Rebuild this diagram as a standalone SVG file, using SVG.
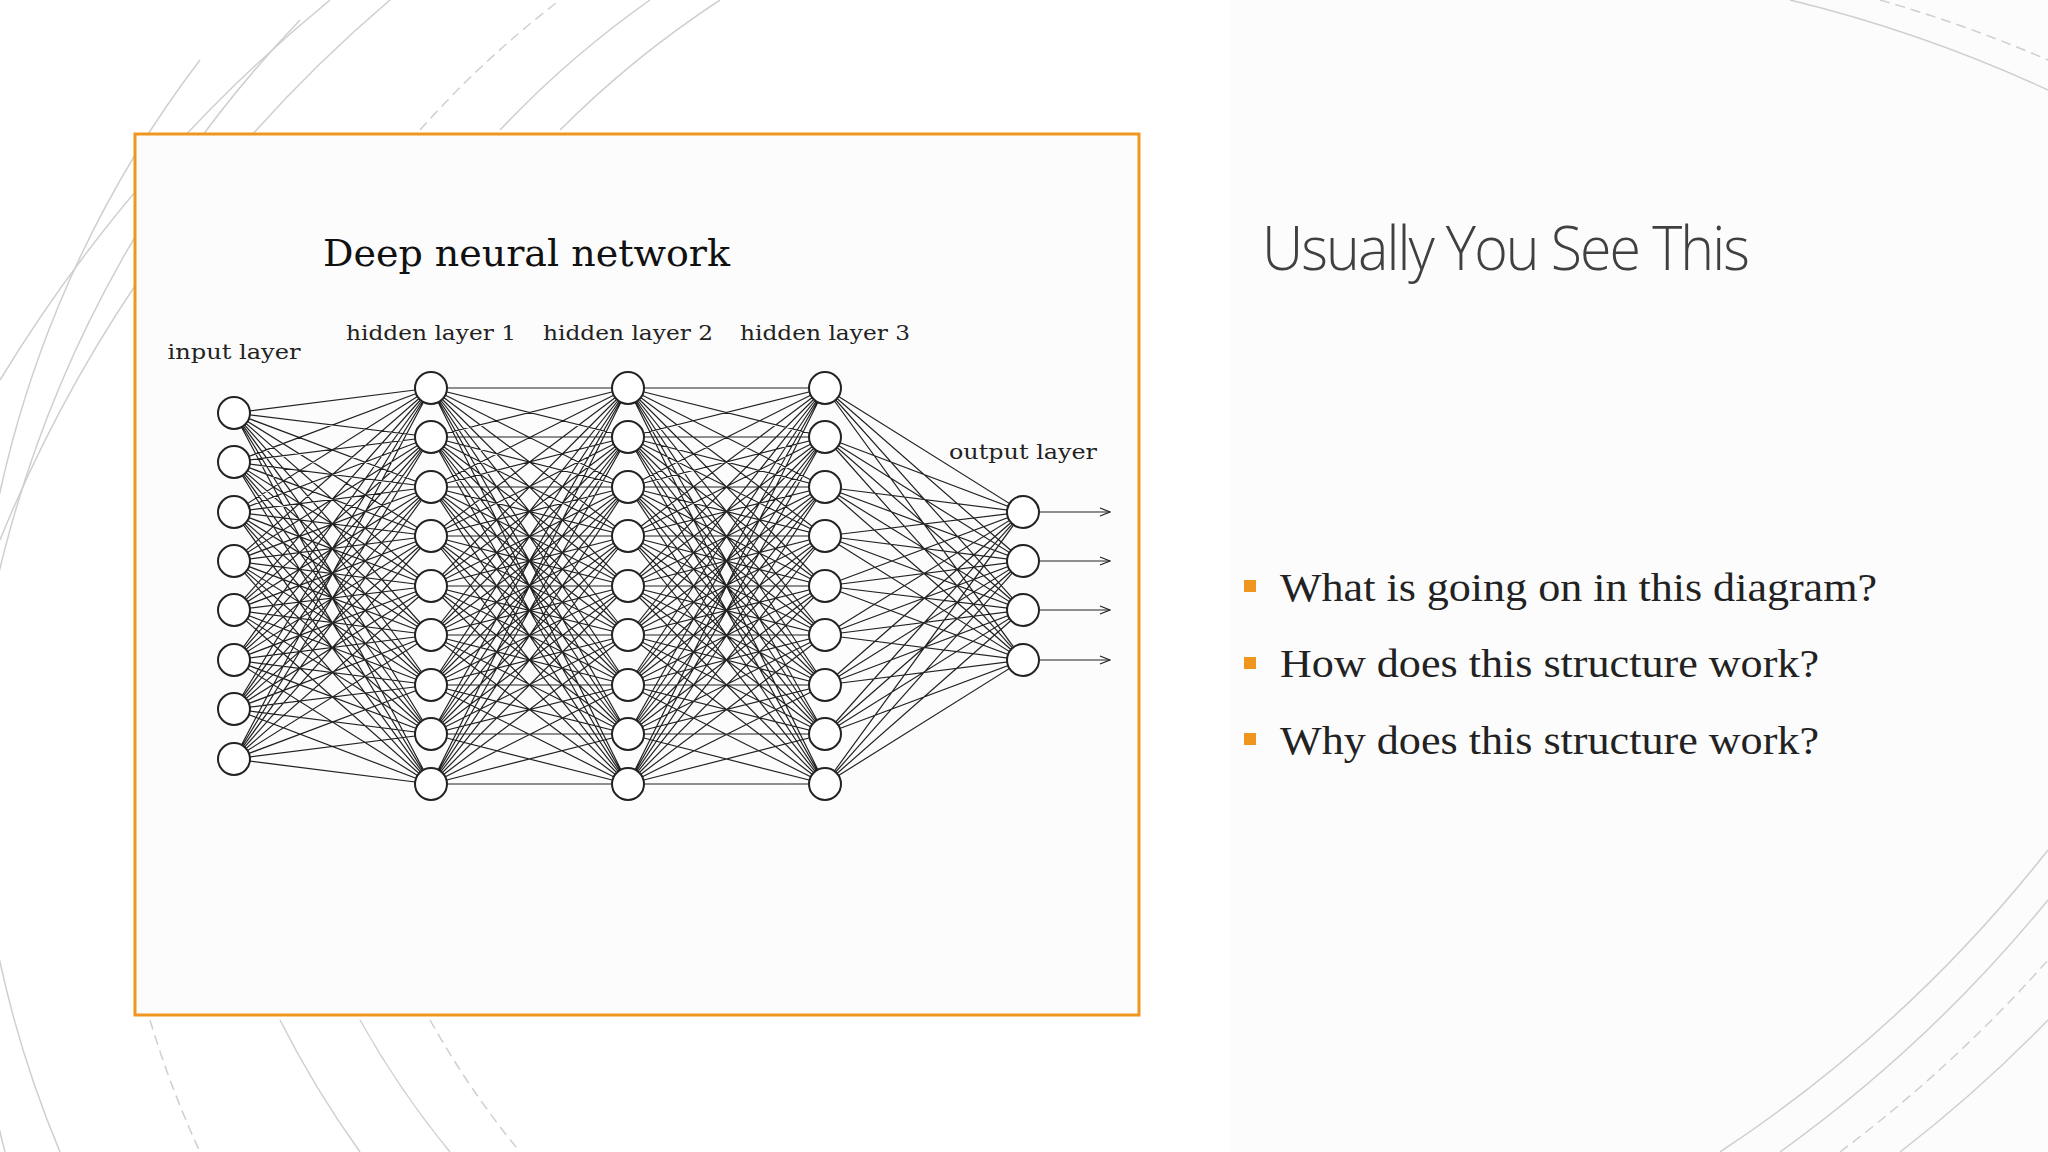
<svg xmlns="http://www.w3.org/2000/svg" xmlns:xlink="http://www.w3.org/1999/xlink" width="2048" height="1152" viewBox="0 0 2048 1152">
<style>
.bg{fill:none;stroke:#cfcfcf;stroke-width:1.5}
.dash{stroke-dasharray:10 6}
.ed{fill:none;stroke:#222;stroke-width:1.2}
.nd{fill:#fff;stroke:#222;stroke-width:2}
.lbl{font-family:"DejaVu Serif","Liberation Serif",serif;font-size:21px;fill:#222;text-anchor:middle}
.bul{font-family:"Liberation Serif",serif;font-size:40px;fill:#222}
</style>
<defs>
<marker id="ar" markerWidth="12" markerHeight="10" refX="11" refY="5" orient="auto" markerUnits="userSpaceOnUse">
<path d="M1 1L11 5L1 9" fill="none" stroke="#222" stroke-width="1.3"/>
</marker>
</defs>
<rect width="2048" height="1152" fill="#fff"/>
<rect x="1230" y="0" width="818" height="1152" fill="#fcfcfc"/>
<g id="decor">
<path class="bg" d="M0 380A1500 1500 0 0 1 330 0"/>
<path class="bg" d="M0 540A1400 1400 0 0 1 390 0"/>
<path class="bg" d="M5 1152A1200 1200 0 0 1 300 20"/>
<path class="bg" d="M60 1152A1100 1100 0 0 1 200 60"/>
<path class="bg dash" d="M420 130A1000 1000 0 0 1 560 0"/>
<path class="bg" d="M500 130A1000 1000 0 0 1 650 0"/>
<path class="bg" d="M560 130A1000 1000 0 0 1 720 0"/>
<path class="bg dash" d="M150 1020A1000 1000 0 0 0 200 1152"/>
<path class="bg" d="M280 1020A1000 1000 0 0 0 360 1152"/>
<path class="bg" d="M360 1020A900 900 0 0 0 450 1152"/>
<path class="bg dash" d="M430 1020A900 900 0 0 0 520 1152"/>
<path class="bg" d="M1790 0A1400 1400 0 0 1 2048 90"/>
<path class="bg dash" d="M1880 0A1400 1400 0 0 1 2048 60"/>
<path class="bg" d="M1720 1152A1400 1400 0 0 0 2048 850"/>
<path class="bg" d="M1780 1152A1400 1400 0 0 0 2048 900"/>
<path class="bg dash" d="M1840 1152A1400 1400 0 0 0 2048 960"/>
<path class="bg" d="M1900 1152A1400 1400 0 0 0 2048 1020"/>
</g>
<g id="frame">
<rect x="135" y="134" width="1004" height="881" fill="#fdfcfc" stroke="#f0961e" stroke-width="3"/>
<text x="323" y="266" font-family="DejaVu Serif,Liberation Serif,serif" font-size="38" fill="#111" textLength="407" lengthAdjust="spacingAndGlyphs">Deep neural network</text>
<text class="lbl" x="234" y="359" textLength="133" lengthAdjust="spacingAndGlyphs">input layer</text>
<text class="lbl" x="431" y="340" textLength="170" lengthAdjust="spacingAndGlyphs">hidden layer 1</text>
<text class="lbl" x="628" y="340" textLength="170" lengthAdjust="spacingAndGlyphs">hidden layer 2</text>
<text class="lbl" x="825" y="340" textLength="170" lengthAdjust="spacingAndGlyphs">hidden layer 3</text>
<text class="lbl" x="1023" y="459" textLength="148" lengthAdjust="spacingAndGlyphs">output layer</text>
</g>
<g id="connectors">
<path class="ed" d="M234 413L431 388M234 413L431 437M234 413L431 487M234 413L431 536M234 413L431 586M234 413L431 635M234 413L431 685M234 413L431 734M234 413L431 784
M234 462L431 388M234 462L431 437M234 462L431 487M234 462L431 536M234 462L431 586M234 462L431 635M234 462L431 685M234 462L431 734M234 462L431 784
M234 512L431 388M234 512L431 437M234 512L431 487M234 512L431 536M234 512L431 586M234 512L431 635M234 512L431 685M234 512L431 734M234 512L431 784
M234 561L431 388M234 561L431 437M234 561L431 487M234 561L431 536M234 561L431 586M234 561L431 635M234 561L431 685M234 561L431 734M234 561L431 784
M234 610L431 388M234 610L431 437M234 610L431 487M234 610L431 536M234 610L431 586M234 610L431 635M234 610L431 685M234 610L431 734M234 610L431 784
M234 660L431 388M234 660L431 437M234 660L431 487M234 660L431 536M234 660L431 586M234 660L431 635M234 660L431 685M234 660L431 734M234 660L431 784
M234 709L431 388M234 709L431 437M234 709L431 487M234 709L431 536M234 709L431 586M234 709L431 635M234 709L431 685M234 709L431 734M234 709L431 784
M234 759L431 388M234 759L431 437M234 759L431 487M234 759L431 536M234 759L431 586M234 759L431 635M234 759L431 685M234 759L431 734M234 759L431 784"/>
<g id="hh">
<path class="ed" d="M431 388L628 388M431 388L628 437M431 388L628 487M431 388L628 536M431 388L628 586M431 388L628 635M431 388L628 685M431 388L628 734M431 388L628 784
M431 437L628 388M431 437L628 437M431 437L628 487M431 437L628 536M431 437L628 586M431 437L628 635M431 437L628 685M431 437L628 734M431 437L628 784
M431 487L628 388M431 487L628 437M431 487L628 487M431 487L628 536M431 487L628 586M431 487L628 635M431 487L628 685M431 487L628 734M431 487L628 784
M431 536L628 388M431 536L628 437M431 536L628 487M431 536L628 536M431 536L628 586M431 536L628 635M431 536L628 685M431 536L628 734M431 536L628 784
M431 586L628 388M431 586L628 437M431 586L628 487M431 586L628 536M431 586L628 586M431 586L628 635M431 586L628 685M431 586L628 734M431 586L628 784
M431 635L628 388M431 635L628 437M431 635L628 487M431 635L628 536M431 635L628 586M431 635L628 635M431 635L628 685M431 635L628 734M431 635L628 784
M431 685L628 388M431 685L628 437M431 685L628 487M431 685L628 536M431 685L628 586M431 685L628 635M431 685L628 685M431 685L628 734M431 685L628 784
M431 734L628 388M431 734L628 437M431 734L628 487M431 734L628 536M431 734L628 586M431 734L628 635M431 734L628 685M431 734L628 734M431 734L628 784
M431 784L628 388M431 784L628 437M431 784L628 487M431 784L628 536M431 784L628 586M431 784L628 635M431 784L628 685M431 784L628 734M431 784L628 784"/>
</g>
<use xlink:href="#hh" transform="translate(197,0)"/>
<path class="ed" d="M825 388L1023 512M825 388L1023 561M825 388L1023 610M825 388L1023 660
M825 437L1023 512M825 437L1023 561M825 437L1023 610M825 437L1023 660
M825 487L1023 512M825 487L1023 561M825 487L1023 610M825 487L1023 660
M825 536L1023 512M825 536L1023 561M825 536L1023 610M825 536L1023 660
M825 586L1023 512M825 586L1023 561M825 586L1023 610M825 586L1023 660
M825 635L1023 512M825 635L1023 561M825 635L1023 610M825 635L1023 660
M825 685L1023 512M825 685L1023 561M825 685L1023 610M825 685L1023 660
M825 734L1023 512M825 734L1023 561M825 734L1023 610M825 734L1023 660
M825 784L1023 512M825 784L1023 561M825 784L1023 610M825 784L1023 660"/>
<path class="ed" marker-end="url(#ar)" d="M1040 512L1110 512"/>
<path class="ed" marker-end="url(#ar)" d="M1040 561L1110 561"/>
<path class="ed" marker-end="url(#ar)" d="M1040 610L1110 610"/>
<path class="ed" marker-end="url(#ar)" d="M1040 660L1110 660"/>
</g>
<g id="input-layer">
<circle class="nd" cx="234" cy="413" r="16"/><circle class="nd" cx="234" cy="462" r="16"/><circle class="nd" cx="234" cy="512" r="16"/><circle class="nd" cx="234" cy="561" r="16"/><circle class="nd" cx="234" cy="610" r="16"/><circle class="nd" cx="234" cy="660" r="16"/><circle class="nd" cx="234" cy="709" r="16"/><circle class="nd" cx="234" cy="759" r="16"/>
</g>
<g id="hidden-layer-1">
<circle class="nd" cx="431" cy="388" r="16"/><circle class="nd" cx="431" cy="437" r="16"/><circle class="nd" cx="431" cy="487" r="16"/><circle class="nd" cx="431" cy="536" r="16"/><circle class="nd" cx="431" cy="586" r="16"/><circle class="nd" cx="431" cy="635" r="16"/><circle class="nd" cx="431" cy="685" r="16"/><circle class="nd" cx="431" cy="734" r="16"/><circle class="nd" cx="431" cy="784" r="16"/>
</g>
<g id="hidden-layer-2">
<circle class="nd" cx="628" cy="388" r="16"/><circle class="nd" cx="628" cy="437" r="16"/><circle class="nd" cx="628" cy="487" r="16"/><circle class="nd" cx="628" cy="536" r="16"/><circle class="nd" cx="628" cy="586" r="16"/><circle class="nd" cx="628" cy="635" r="16"/><circle class="nd" cx="628" cy="685" r="16"/><circle class="nd" cx="628" cy="734" r="16"/><circle class="nd" cx="628" cy="784" r="16"/>
</g>
<g id="hidden-layer-3">
<circle class="nd" cx="825" cy="388" r="16"/><circle class="nd" cx="825" cy="437" r="16"/><circle class="nd" cx="825" cy="487" r="16"/><circle class="nd" cx="825" cy="536" r="16"/><circle class="nd" cx="825" cy="586" r="16"/><circle class="nd" cx="825" cy="635" r="16"/><circle class="nd" cx="825" cy="685" r="16"/><circle class="nd" cx="825" cy="734" r="16"/><circle class="nd" cx="825" cy="784" r="16"/>
</g>
<g id="output-layer">
<circle class="nd" cx="1023" cy="512" r="16"/><circle class="nd" cx="1023" cy="561" r="16"/><circle class="nd" cx="1023" cy="610" r="16"/><circle class="nd" cx="1023" cy="660" r="16"/>
</g>
<g id="heading">
<text x="1262" y="270" font-family="Open Sans,sans-serif" font-weight="300" font-size="60" fill="#404040" textLength="486" lengthAdjust="spacingAndGlyphs" letter-spacing="-2">Usually You See This</text>
</g>
<g id="bullets">
<rect x="1244" y="580" width="12" height="12" fill="#f0961e"/>
<rect x="1244" y="657" width="12" height="12" fill="#f0961e"/>
<rect x="1244" y="733" width="12" height="12" fill="#f0961e"/>
<text class="bul" x="1280" y="601" textLength="597" lengthAdjust="spacingAndGlyphs">What is going on in this diagram?</text>
<text class="bul" x="1280" y="677" textLength="539" lengthAdjust="spacingAndGlyphs">How does this structure work?</text>
<text class="bul" x="1280" y="754" textLength="539" lengthAdjust="spacingAndGlyphs">Why does this structure work?</text>
</g>
</svg>
